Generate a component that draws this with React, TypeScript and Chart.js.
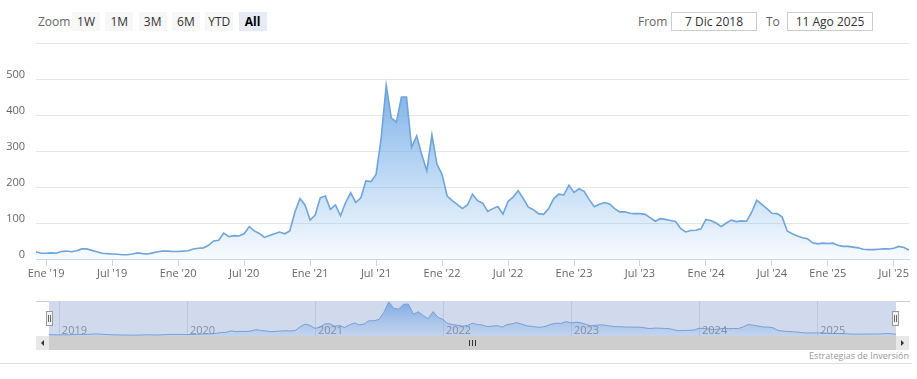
import React, { useEffect, useRef } from "react";
import { Chart, registerables } from "chart.js";

Chart.register(...registerables);

// ---- data (biweekly samples, ordinal axis) ----
const dic18 = [20, 16];
const ene19 = [16, 17, 16, 21, 22, 20, 23, 28, 28, 24, 20, 16, 15];
const jul19 = [14, 13, 12, 12, 14, 17, 15, 14, 17, 20, 22, 22, 21];
const ene20 = [21, 22, 23, 28, 30, 31, 38, 50, 52, 72, 62, 65, 64];
const jul20 = [70, 90, 78, 71, 60, 65, 70, 75, 70, 78, 130, 168, 150];
const ene21 = [108, 122, 170, 175, 138, 150, 120, 157, 184, 157, 170, 217, 215];
const jul21 = [235, 335, 482, 392, 380, 450, 450, 310, 342, 290, 245, 345, 263];
const ene22 = [235, 175, 162, 152, 140, 150, 180, 162, 155, 132, 140, 146, 125];
const jul22 = [160, 172, 190, 168, 144, 137, 126, 124, 140, 168, 180, 178, 205];
const ene23 = [185, 195, 188, 165, 145, 152, 157, 153, 140, 131, 131, 127, 126];
const jul23 = [126, 124, 115, 105, 112, 110, 107, 104, 85, 75, 79, 80, 84];
const ene24 = [110, 106, 100, 90, 100, 108, 104, 106, 105, 130, 163, 152, 140];
const jul24 = [127, 126, 117, 78, 70, 64, 59, 56, 45, 42, 44];
const ene25 = [43, 44, 38, 35, 35, 33, 31, 27, 26, 26, 27, 28, 28];
const jul25 = [30, 35, 32, 25];

const periodValues = [dic18, ene19, jul19, ene20, jul20, ene21, jul21, ene22, jul22, ene23, jul23, ene24, jul24, ene25, jul25];
const periodTicks = [null, "Ene '19", "Jul '19", "Ene '20", "Jul '20", "Ene '21", "Jul '21", "Ene '22", "Jul '22", "Ene '23", "Jul '23", "Ene '24", "Jul '24", "Ene '25", "Jul '25"];
const periodYears = [null, "2019", null, "2020", null, "2021", null, "2022", null, "2023", null, "2024", null, "2025", null];

const yTicks = [0, 100, 200, 300, 400, 500, 600];
const zoomButtons = ["1W", "1M", "3M", "6M", "YTD", "All"];
const fromDate = "7 Dic 2018";
const toDate = "11 Ago 2025";
const credit = "Estrategias de Inversión";

// ---- derived tables ----
const categories: string[] = [];
const values: number[] = [];
const mainTicks: { i: number; label: string }[] = [];
const navTicks: { i: number; label: string }[] = [];
periodValues.forEach((arr, p) => {
  arr.forEach((v, k) => {
    const i = values.length;
    if (k === 0 && periodTicks[p]) mainTicks.push({ i, label: periodTicks[p] as string });
    if (k === 0 && periodYears[p]) navTicks.push({ i, label: periodYears[p] as string });
    categories.push(`${periodTicks[p] || "Dic '18"} #${k}`);
    values.push(v);
  });
});
const maxVal = Math.max(...values);

const FONT = "'Open Sans', sans-serif";

function MainChart() {
  const ref = useRef<HTMLCanvasElement | null>(null);
  useEffect(() => {
    const canvas = ref.current!;
    const chart = new Chart(canvas, {
      type: "line",
      data: {
        labels: categories,
        datasets: [
          {
            data: values,
            borderColor: "rgb(111,165,218)",
            borderWidth: 1.6,
            pointRadius: 0,
            tension: 0,
            fill: "origin",
            backgroundColor: (ctx: any) => {
              const c = ctx.chart;
              const area = c.chartArea;
              if (!area) return "rgba(124,181,236,0.3)";
              const top = c.scales.y.getPixelForValue(maxVal);
              const g = c.ctx.createLinearGradient(0, top, 0, area.bottom);
              g.addColorStop(0, "rgba(124,176,232,0.98)");
              g.addColorStop(1, "rgba(124,181,236,0.05)");
              return g;
            },
          },
        ],
      },
      options: {
        animation: false,
        responsive: false,
        devicePixelRatio: 1,
        layout: { padding: { top: 43, right: 8, left: 0, bottom: 0 } },
        plugins: { legend: { display: false }, tooltip: { enabled: false } },
        scales: {
          x: {
            type: "category",
            offset: false,
            grid: { display: true, drawOnChartArea: false, drawTicks: true, tickLength: 7, color: "#ccd6eb" },
            border: { display: true, color: "#ccd6eb", width: 1 },
            ticks: {
              autoSkip: false,
              maxRotation: 0,
              minRotation: 0,
              padding: 1,
              color: "#666666",
              font: { family: FONT, size: 11 },
              callback: (value: any) => {
                const t = mainTicks.find((m) => m.i === value);
                return t ? t.label : null;
              },
            },
            afterBuildTicks: (scale: any) => {
              scale.ticks = mainTicks.map((m) => ({ value: m.i }));
            },
            afterFit: (scale: any) => {
              scale.height = 31;
              scale.paddingLeft = 0;
              scale.paddingRight = 0;
            },
          },
          y: {
            min: 0,
            max: 600,
            grid: { color: "#e6e6e6", drawTicks: false, lineWidth: 1 },
            border: { display: false },
            ticks: {
              padding: 11,
              labelOffset: -4,
              color: "#666666",
              font: { family: FONT, size: 11 },
              callback: (v: any) => (v === yTicks[yTicks.length - 1] ? "" : String(v)),
            },
            afterBuildTicks: (scale: any) => {
              scale.ticks = yTicks.map((v) => ({ value: v }));
            },
            afterFit: (scale: any) => {
              scale.width = 36;
              scale.paddingTop = 0;
              scale.paddingBottom = 0;
            },
          },
        },
      } as any,
    });
    return () => chart.destroy();
  }, []);
  return (
    <canvas
      ref={ref}
      width={917}
      height={290}
      style={{ position: "absolute", left: 0, top: 0, width: 917, height: 290 }}
    />
  );
}

const navPlugin = {
  id: "navDecor",
  beforeDatasetsDraw(chart: any) {
    const { ctx, chartArea: a } = chart;
    ctx.save();
    ctx.fillStyle = "rgb(209,218,237)";
    ctx.fillRect(a.left, a.top, a.right - a.left, a.bottom - a.top);
    ctx.strokeStyle = "#bfc8da";
    ctx.lineWidth = 1;
    navTicks.forEach((t) => {
      const x = Math.round(chart.scales.x.getPixelForValue(t.i)) + 0.5;
      ctx.beginPath();
      ctx.moveTo(x, a.top);
      ctx.lineTo(x, a.bottom);
      ctx.stroke();
    });
    ctx.restore();
  },
  afterDatasetsDraw(chart: any) {
    const { ctx, chartArea: a } = chart;
    ctx.save();
    ctx.fillStyle = "#858ea0";
    ctx.font = `11px ${FONT}`;
    ctx.textAlign = "left";
    ctx.textBaseline = "alphabetic";
    navTicks.forEach((t) => {
      const x = chart.scales.x.getPixelForValue(t.i);
      ctx.fillText(t.label, x + 3, a.bottom - 2.5);
    });
    ctx.restore();
  },
};

function Navigator() {
  const ref = useRef<HTMLCanvasElement | null>(null);
  useEffect(() => {
    const canvas = ref.current!;
    const chart = new Chart(canvas, {
      type: "line",
      data: {
        labels: categories,
        datasets: [
          {
            data: values,
            borderColor: "rgb(118,160,214)",
            borderWidth: 1,
            pointRadius: 0,
            tension: 0,
            fill: "origin",
            backgroundColor: (ctx: any) => {
              const c = ctx.chart;
              const area = c.chartArea;
              if (!area) return "rgba(124,170,230,0.4)";
              const g = c.ctx.createLinearGradient(0, area.top, 0, area.bottom);
              g.addColorStop(0, "rgba(110,160,225,0.85)");
              g.addColorStop(1, "rgba(124,175,235,0.15)");
              return g;
            },
          },
        ],
      },
      options: {
        animation: false,
        responsive: false,
        devicePixelRatio: 1,
        layout: { padding: 0 },
        plugins: { legend: { display: false }, tooltip: { enabled: false } },
        scales: {
          x: { type: "category", display: false, offset: false },
          y: { display: false, min: 0, max: 495 },
        },
      } as any,
      plugins: [navPlugin],
    });
    return () => chart.destroy();
  }, []);
  return (
    <canvas
      ref={ref}
      width={847}
      height={35}
      style={{ position: "absolute", left: 49, top: 301, width: 847, height: 35 }}
    />
  );
}

function Handle({ left }: { left: number }) {
  return (
    <div
      style={{
        position: "absolute",
        left,
        top: 311,
        width: 7,
        height: 15,
        boxSizing: "border-box",
        background: "#f2f2f2",
        border: "1px solid #999",
      }}
    >
      <div style={{ position: "absolute", left: 1, top: 3, width: 1, height: 7, background: "#666" }} />
      <div style={{ position: "absolute", left: 3, top: 3, width: 1, height: 7, background: "#666" }} />
    </div>
  );
}

export default function App() {
  const txt: React.CSSProperties = {
    position: "absolute",
    top: 12,
    height: 19,
    lineHeight: "19px",
    fontSize: 12,
    fontFamily: FONT,
    whiteSpace: "nowrap",
  };
  return (
    <div
      style={{
        position: "fixed",
        left: 0,
        top: 0,
        width: 917,
        height: 379,
        background: "#ffffff",
        overflow: "hidden",
        fontFamily: FONT,
      }}
    >
      <div style={{ ...txt, left: 38, color: "#666" }}>Zoom</div>
      {zoomButtons.map((b, k) => (
        <div
          key={b}
          style={{
            ...txt,
            left: 72 + k * 33.3,
            width: 28,
            textAlign: "center",
            background: b === "All" ? "#e6ebf5" : "#f7f7f7",
            color: b === "All" ? "#000" : "#333",
            fontWeight: b === "All" ? 700 : 400,
          }}
        >
          {b}
        </div>
      ))}
      <div style={{ ...txt, left: 638, color: "#666" }}>From</div>
      <div
        style={{
          ...txt,
          left: 671,
          width: 86,
          boxSizing: "border-box",
          border: "1px solid #cccccc",
          lineHeight: "17px",
          textAlign: "center",
          color: "#333",
        }}
      >
        {fromDate}
      </div>
      <div style={{ ...txt, left: 766, color: "#666" }}>To</div>
      <div
        style={{
          ...txt,
          left: 787,
          width: 86,
          boxSizing: "border-box",
          border: "1px solid #cccccc",
          lineHeight: "17px",
          textAlign: "center",
          color: "#333",
        }}
      >
        {toDate}
      </div>

      <MainChart />

      {/* navigator outline */}
      <div style={{ position: "absolute", left: 36, top: 301, width: 874, height: 1, background: "#cccccc" }} />
      <Navigator />
      <Handle left={46} />
      <Handle left={892} />

      {/* scrollbar */}
      <div style={{ position: "absolute", left: 36, top: 336, width: 873, height: 14, background: "#f2f2f2" }} />
      <div style={{ position: "absolute", left: 49, top: 336, width: 847, height: 14, background: "#cecece" }} />
      <div style={{ position: "absolute", left: 36, top: 336, width: 13, height: 14, background: "#e8e8e8" }}>
        <div
          style={{
            position: "absolute",
            left: 5,
            top: 4,
            width: 0,
            height: 0,
            borderTop: "3px solid transparent",
            borderBottom: "3px solid transparent",
            borderRight: "3px solid #333",
          }}
        />
      </div>
      <div style={{ position: "absolute", left: 896, top: 336, width: 13, height: 14, background: "#e8e8e8" }}>
        <div
          style={{
            position: "absolute",
            left: 5,
            top: 4,
            width: 0,
            height: 0,
            borderTop: "3px solid transparent",
            borderBottom: "3px solid transparent",
            borderLeft: "3px solid #333",
          }}
        />
      </div>
      {[469, 472, 475].map((x) => (
        <div key={x} style={{ position: "absolute", left: x, top: 340, width: 1, height: 6, background: "#333" }} />
      ))}

      <div
        style={{
          position: "absolute",
          left: 700,
          top: 350,
          width: 209,
          height: 12,
          lineHeight: "12px",
          textAlign: "right",
          fontSize: 9,
          color: "#999",
          fontFamily: FONT,
        }}
      >
        {credit}
      </div>
      <div style={{ position: "absolute", left: 0, top: 363, width: 912, height: 1, background: "#dddddd" }} />
    </div>
  );
}
